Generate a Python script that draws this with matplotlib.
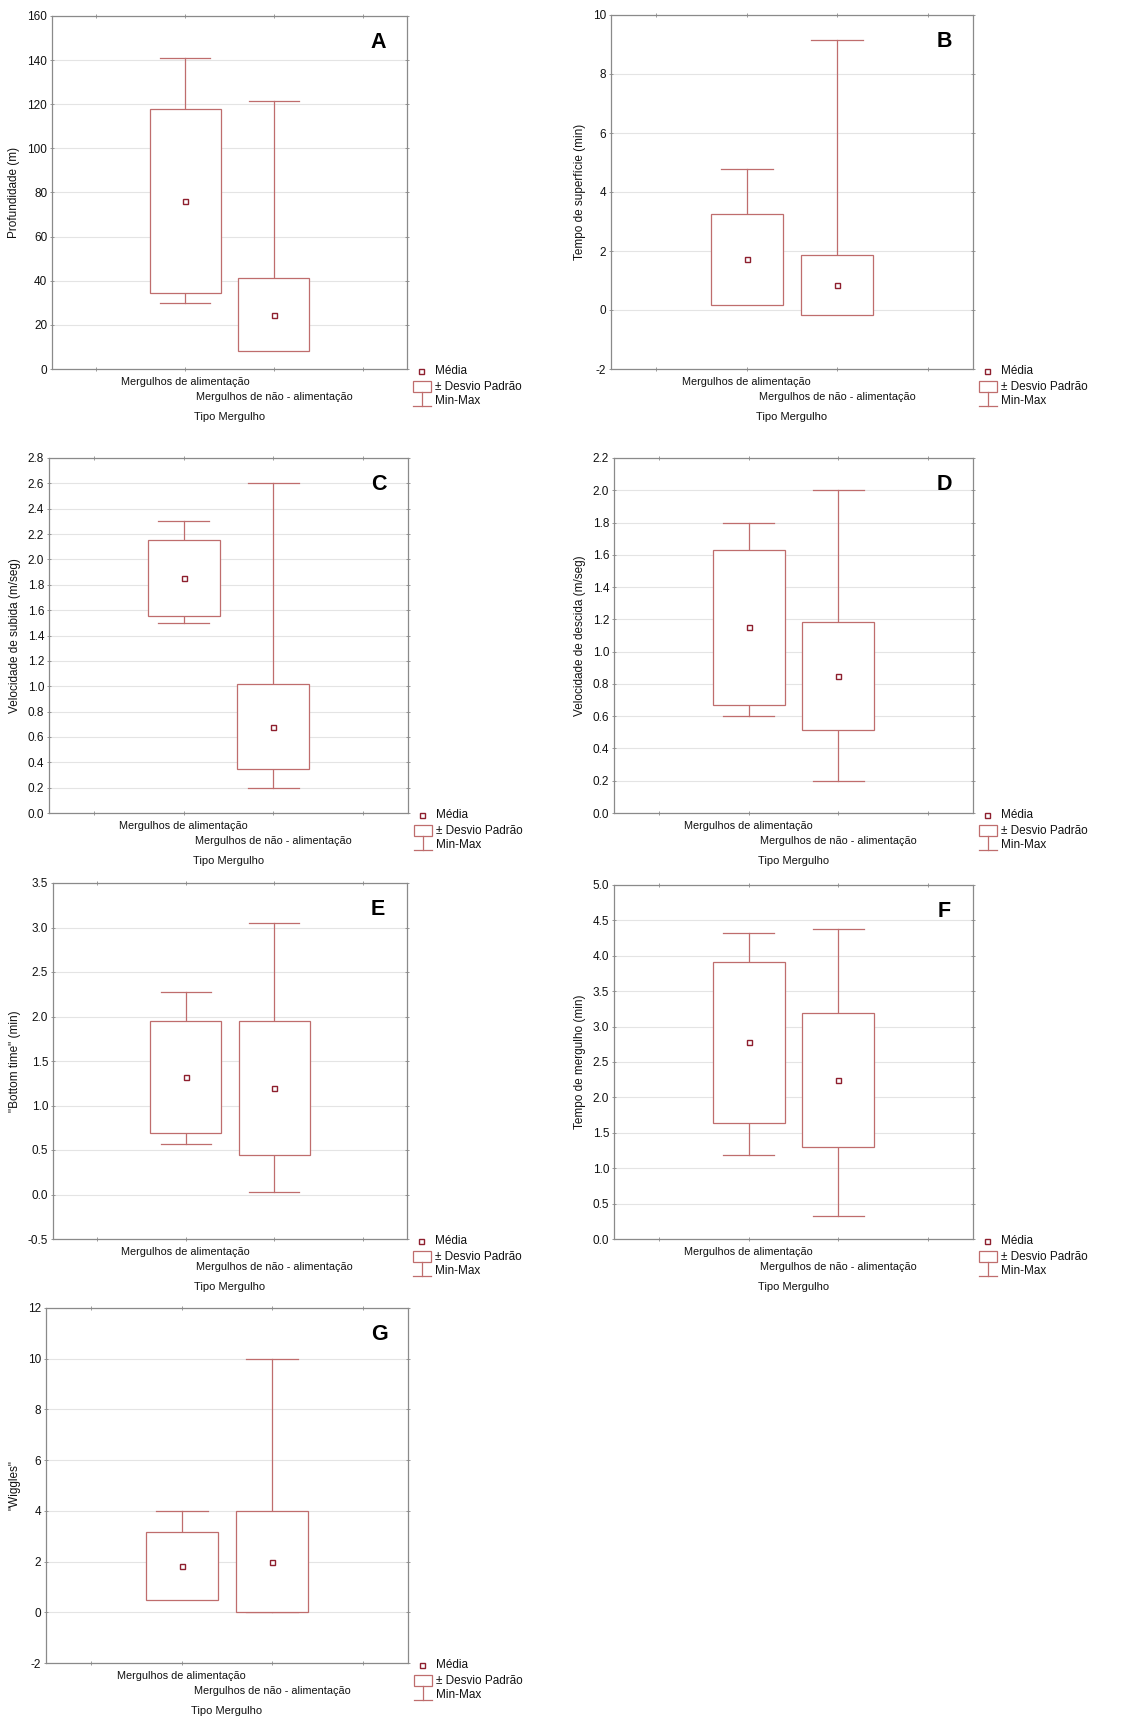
import numpy as np
import matplotlib.pyplot as plt
from matplotlib.patches import Rectangle
from matplotlib.lines import Line2D
from matplotlib.ticker import FormatStrFormatter

plt.rcParams['font.family'] = ['Liberation Sans', 'DejaVu Sans']

# tipos de mergulho (eixo x)
tipos = ['Mergulhos de alimentação', 'Mergulhos de não - alimentação']
letras = ['A', 'B', 'C', 'D', 'E', 'F', 'G']
rotulos_y = ['Profundidade (m)', 'Tempo de superfície (min)',
             'Velocidade de subida (m/seg)', 'Velocidade de descida (m/seg)',
             '"Bottom time" (min)', 'Tempo de mergulho (min)', '"Wiggles"']

# [alimentação, não-alimentação] para cada variável
medias = [[76.2, 24.7], [1.72, 0.85], [1.85, 0.68], [1.15, 0.85],
          [1.32, 1.20], [2.78, 2.25], [1.83, 2.0]]
desvios = [[41.7, 16.5], [1.55, 1.02], [0.30, 0.335], [0.478, 0.336],
           [0.632, 0.754], [1.137, 0.947], [1.33, 2.0]]
minimos = [[29.7, 10.0], [0.25, 0.1], [1.5, 0.2], [0.6, 0.2],
           [0.57, 0.03], [1.19, 0.32], [1.0, 0.0]]
maximos = [[141.0, 121.5], [4.77, 9.16], [2.3, 2.6], [1.8, 2.0],
           [2.27, 3.05], [4.32, 4.38], [4.0, 10.0]]

# escala do eixo y: (min, max, passo, casas decimais)
escalas = [(0, 160, 20, 0), (-2, 10, 2, 0), (0, 2.8, 0.2, 1), (0, 2.2, 0.2, 1),
           (-0.5, 3.5, 0.5, 1), (0, 5, 0.5, 1), (-2, 12, 2, 0)]

W, H = 1132, 1718
# posição de cada painel em pixels (esq, topo, dir, base)
paineis = [(52, 16, 407, 369), (611, 15, 973, 369),
           (49, 458, 408, 813), (614, 458, 973, 813),
           (53, 883, 407, 1239), (614, 885, 973, 1239),
           (46, 1308, 408, 1663)]

cor_caixa = '#bf6d6d'
cor_media = '#8e1f2e'
cor_eixo = '#8a8a8a'
cor_texto = '#111111'
tam = 8.5
tam_cat = 7.8

fig = plt.figure(figsize=(W / 100, H / 100), dpi=100)


def fpos(x, y):
    return x / W, 1 - y / H


def legenda(dir_px, base_px):
    x0, y0 = dir_px, base_px
    mx, my = fpos(x0 + 14, y0 + 2)
    fig.add_artist(Line2D([mx], [my], marker='s', ms=3.6, mfc='white',
                          mec=cor_media, mew=1.0, transform=fig.transFigure))
    # ícone min-max (atrás da caixa)
    xa, ya = fpos(x0 + 15, y0 + 23)
    xb, yb = fpos(x0 + 15, y0 + 37)
    fig.add_artist(Line2D([xa, xb], [ya, yb], color=cor_caixa, lw=0.9,
                          transform=fig.transFigure))
    c1, cy = fpos(x0 + 6, y0 + 37)
    c2, _ = fpos(x0 + 24, y0 + 37)
    fig.add_artist(Line2D([c1, c2], [cy, cy], color=cor_caixa, lw=0.9,
                          transform=fig.transFigure))
    r0x, r0y = fpos(x0 + 6, y0 + 23)
    fig.add_artist(Rectangle((r0x, r0y), 18 / W, 11 / H, facecolor='white',
                             edgecolor=cor_caixa, lw=0.9,
                             transform=fig.transFigure))
    tx, _ = fpos(x0 + 28, 0)
    for dy, txt in [(2, 'Média'), (18, '± Desvio Padrão'), (32, 'Min-Max')]:
        fig.text(tx, 1 - (y0 + dy) / H, txt, fontsize=tam, va='center',
                 ha='left', color=cor_texto)


for i in range(7):
    esq, topo, dir_, base = paineis[i]
    ax = fig.add_axes([esq / W, 1 - base / H, (dir_ - esq) / W, (base - topo) / H])
    ymin, ymax, passo, dec = escalas[i]

    x = np.array([1, 2])
    m = np.array(medias[i])
    dp = np.array(desvios[i])
    lo = np.array(minimos[i])
    hi = np.array(maximos[i])

    for k in range(2):
        # bigodes min-max
        ax.plot([x[k], x[k]], [lo[k], hi[k]], color=cor_caixa, lw=0.9, zorder=2)
        for v in (lo[k], hi[k]):
            ax.plot([x[k] - 0.285, x[k] + 0.285], [v, v], color=cor_caixa,
                    lw=0.9, zorder=2)
        # caixa média ± desvio padrão
        ax.add_patch(Rectangle((x[k] - 0.4, m[k] - dp[k]), 0.8, 2 * dp[k],
                               facecolor='white', edgecolor=cor_caixa, lw=0.9,
                               zorder=3))
    ax.plot(x, m, linestyle='none', marker='s', ms=3.6, mfc='white',
            mec=cor_media, mew=1.0, zorder=4)

    ax.set_xlim(-0.5, 3.5)
    ax.set_ylim(ymin, ymax)
    ax.set_xticks([0, 1, 2, 3])
    ax.set_xticklabels([])
    ax.set_yticks(np.arange(ymin, ymax + passo / 2, passo))
    ax.yaxis.set_major_formatter(FormatStrFormatter('%.{}f'.format(dec)))
    ax.grid(axis='y', color='#e4e4e4', lw=0.8)
    ax.set_axisbelow(True)
    for s in ax.spines.values():
        s.set_color(cor_eixo)
        s.set_linewidth(0.9)
    ax.tick_params(direction='inout', length=3, width=0.6, color=cor_eixo,
                   top=True, right=True, labelsize=tam, pad=2,
                   labelcolor=cor_texto)

    ax.set_ylabel(rotulos_y[i], fontsize=tam, labelpad=5, color=cor_texto)

    # rótulos das categorias, escalonados
    for k, dy in [(0, -13), (1, -28)]:
        ax.annotate(tipos[k], xy=(x[k], 0), xycoords=('data', 'axes fraction'),
                    xytext=(0, dy * 0.72), textcoords='offset points',
                    ha='center', va='center', fontsize=tam_cat, color=cor_texto)
    ax.annotate('Tipo Mergulho', xy=(0.5, 0), xycoords='axes fraction',
                xytext=(0, -48 * 0.72), textcoords='offset points',
                ha='center', va='center', fontsize=8, color=cor_texto)

    ax.text(1 - 29 / (dir_ - esq), 1 - 27 / (base - topo), letras[i],
            transform=ax.transAxes, ha='center', va='center',
            fontsize=15.5, fontweight='bold', color='black')

    legenda(dir_, base)

fig.savefig('out.png', dpi=100)
